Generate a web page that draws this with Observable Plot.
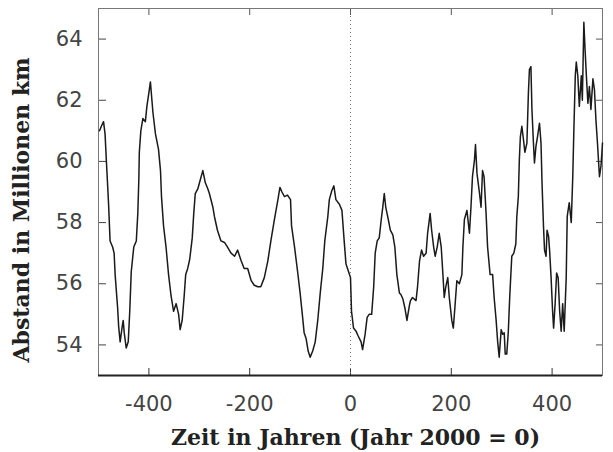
<!DOCTYPE html>
<html>
<head>
<meta charset="utf-8">
<script src="https://cdn.jsdelivr.net/npm/d3@7"></script>
<script src="https://cdn.jsdelivr.net/npm/@observablehq/plot@0.6"></script>
<style>
  html, body { margin: 0; padding: 0; background: #fff; }
  #chart svg { display: block; }
</style>
</head>
<body>
<div id="chart"></div>
<script>
// Years relative to 2000 (Jahr 2000 = 0)
const years = [
  -498, -493, -490, -487, -484, -480, -477, -472, -469, -467, -462, -460, -457, -453, -451, -449, -445, -441, -438, -435,
  -430, -425, -422, -420, -419, -416, -412, -407, -404, -400, -397, -394, -392, -387, -381, -377, -375, -371, -366, -361,
  -356, -351, -346, -341, -338, -334, -330, -327, -323, -319, -314, -311, -308, -303, -298, -293, -288, -283, -280, -273,
  -270, -264, -257, -250, -244, -237, -230, -224, -217, -211, -204, -197, -191, -184, -178, -171, -164, -158, -151, -144,
  -140, -136, -131, -125, -119, -117, -111, -105, -100, -95, -92, -88, -84, -80, -75, -70, -65, -60, -55, -51,
  -45, -42, -37, -33, -29, -22, -17, -13, -9, -4, 0, 2, 6, 11, 15, 21, 24, 29, 33, 37,
  42, 46, 49, 53, 57, 61, 64, 67, 70, 75, 79, 84, 88, 92, 97, 100, 104, 108, 112, 117,
  119, 123, 130, 133, 137, 141, 145, 150, 153, 158, 161, 165, 168, 172, 176, 180, 183, 186, 189, 193,
  196, 201, 204, 207, 211, 216, 221, 223, 226, 231, 236, 239, 242, 246, 248, 251, 256, 259, 262, 265,
  269, 272, 277, 282, 285, 289, 292, 295, 299, 302, 305, 307, 310, 313, 316, 320, 324, 328, 330, 333,
  335, 337, 340, 344, 346, 350, 353, 355, 358, 360, 363, 365, 368, 371, 375, 378, 380, 383, 385, 388,
  390, 393, 395, 398, 401, 403, 406, 409, 412, 415, 418, 421, 424, 428, 430, 434, 438, 441, 443, 446,
  448, 451, 454, 458, 460, 463, 465, 468, 471, 474, 477, 481, 484, 487, 490, 494, 497, 500
];
// Distance in million km
const distance = [
  61.0, 61.2, 61.3, 60.9, 59.9, 58.6, 57.4, 57.2, 57.0, 56.3, 55.2, 54.6, 54.1, 54.6, 54.8, 54.4, 53.9, 54.1, 55.1, 56.4,
  57.2, 57.4, 58.3, 59.4, 60.3, 61.0, 61.4, 61.3, 61.8, 62.25, 62.6, 62.0, 61.6, 60.9, 60.4, 59.7, 58.85, 57.9, 57.2, 56.3,
  55.6, 55.1, 55.35, 55.0, 54.5, 54.8, 55.6, 56.3, 56.5, 56.8, 57.5, 58.3, 58.95, 59.1, 59.4, 59.7, 59.3, 59.1, 58.95, 58.5,
  58.2, 57.75, 57.4, 57.35, 57.2, 57.0, 56.9, 57.1, 56.75, 56.5, 56.5, 56.1, 55.95, 55.9, 55.9, 56.2, 56.75, 57.4, 58.1, 58.75,
  59.15, 59.0, 58.85, 58.9, 58.75, 57.9, 57.2, 56.4, 55.7, 54.9, 54.4, 54.2, 53.8, 53.6, 53.8, 54.1, 54.8, 55.7, 56.5, 57.4,
  58.2, 58.75, 59.05, 59.2, 58.75, 58.6, 58.4, 57.5, 56.65, 56.4, 56.2, 55.1, 54.55, 54.45, 54.3, 54.1, 53.85, 54.35, 54.9, 55.0,
  55.0, 55.9, 57.0, 57.4, 57.5, 58.1, 58.5, 58.95, 58.5, 58.1, 57.75, 57.6, 57.2, 56.3, 55.7, 55.65, 55.5, 55.2, 54.8, 55.3,
  55.45, 55.55, 55.45, 55.9, 56.75, 57.1, 56.9, 57.0, 57.65, 58.3, 57.75, 57.2, 56.9, 57.2, 57.65, 57.2, 56.4, 55.55, 55.9, 56.2,
  55.55, 54.8, 54.55, 55.2, 56.1, 56.0, 56.3, 57.2, 58.1, 58.4, 57.65, 58.5, 59.5, 60.05, 60.55, 59.6, 58.95, 58.5, 59.7, 59.5,
  58.3, 57.2, 56.3, 56.3, 55.55, 54.8, 54.1, 53.6, 54.5, 54.35, 54.4, 53.7, 53.7, 54.4, 55.6, 56.9, 57.0, 57.3, 58.2, 58.85,
  60.05, 60.8, 61.15, 60.6, 60.3, 60.6, 62.25, 63.0, 63.1, 61.7, 60.6, 59.95, 60.5, 60.8, 61.25, 60.6, 59.3, 57.85, 57.1, 56.9,
  57.75, 57.55, 57.1, 56.2, 55.1, 54.55, 55.35, 56.35, 56.2, 55.1, 54.45, 55.35, 54.45, 56.2, 58.2, 58.65, 58.0, 59.5, 60.9, 62.8,
  63.25, 62.8, 61.8, 62.8, 62.0, 64.55, 63.8, 62.8, 61.9, 62.45, 61.7, 62.7, 62.35, 61.35, 60.6, 59.5, 59.85, 60.6
];

const xTicks = [-400, -200, 0, 200, 400];
const yTicks = [54, 56, 58, 60, 62, 64];
const xDomain = [-500, 500];
const yDomain = [53, 65];
const xLabel = "Zeit in Jahren (Jahr 2000 = 0)";
const yLabel = "Abstand in Millionen km";

const data = years.map((t, i) => ({t, d: distance[i]}));

const tickFont = "'DejaVu Sans', sans-serif";
const titleFont = "'DejaVu Serif', serif";

const chart = Plot.plot({
  width: 613,
  height: 452,
  marginLeft: 98,
  marginRight: 11,
  marginTop: 8,
  marginBottom: 77,
  style: {background: "#fff", color: "#333"},
  x: {domain: xDomain},
  y: {domain: yDomain},
  marks: [
    // tick labels
    Plot.axisX(xTicks, {anchor: "bottom", label: null, tickSize: 0, tickPadding: 21, fontSize: 21, fontFamily: tickFont, fill: "#444", tickFormat: d => String(d)}),
    Plot.axisY(yTicks, {anchor: "left", label: null, tickSize: 0, tickPadding: 16, fontSize: 21, fontFamily: tickFont, fill: "#444"}),
    // inward tick marks on all sides
    Plot.axisX(xTicks, {anchor: "bottom", label: null, tickSize: -7, tickFormat: () => "", stroke: "#333"}),
    Plot.axisX(xTicks, {anchor: "top", label: null, tickSize: -6, tickFormat: () => "", stroke: "#555"}),
    Plot.axisY(yTicks, {anchor: "left", label: null, tickSize: -8, tickFormat: () => "", stroke: "#444"}),
    Plot.axisY(yTicks, {anchor: "right", label: null, tickSize: -7, tickFormat: () => "", stroke: "#555"}),
    Plot.frame({stroke: "#777", strokeWidth: 1}),
    Plot.ruleY([yDomain[0]], {stroke: "#222", strokeWidth: 2}),
    Plot.ruleX([0], {stroke: "#777", strokeDasharray: "1,3"}),
    Plot.line(data, {x: "t", y: "d", stroke: "#1a1a1a", strokeWidth: 1.5}),
    // axis titles
    Plot.text([xLabel], {frameAnchor: "bottom", textAnchor: "middle", dy: 69, dx: 5, fontSize: 22, fontWeight: "bold", fontFamily: titleFont, fill: "#222"}),
    Plot.text([yLabel], {frameAnchor: "left", textAnchor: "middle", lineAnchor: "middle", dx: -77, dy: 18, rotate: -90, fontSize: 22, fontWeight: "bold", fontFamily: titleFont, fill: "#222"})
  ]
});

document.getElementById("chart").appendChild(chart);
</script>
</body>
</html>
